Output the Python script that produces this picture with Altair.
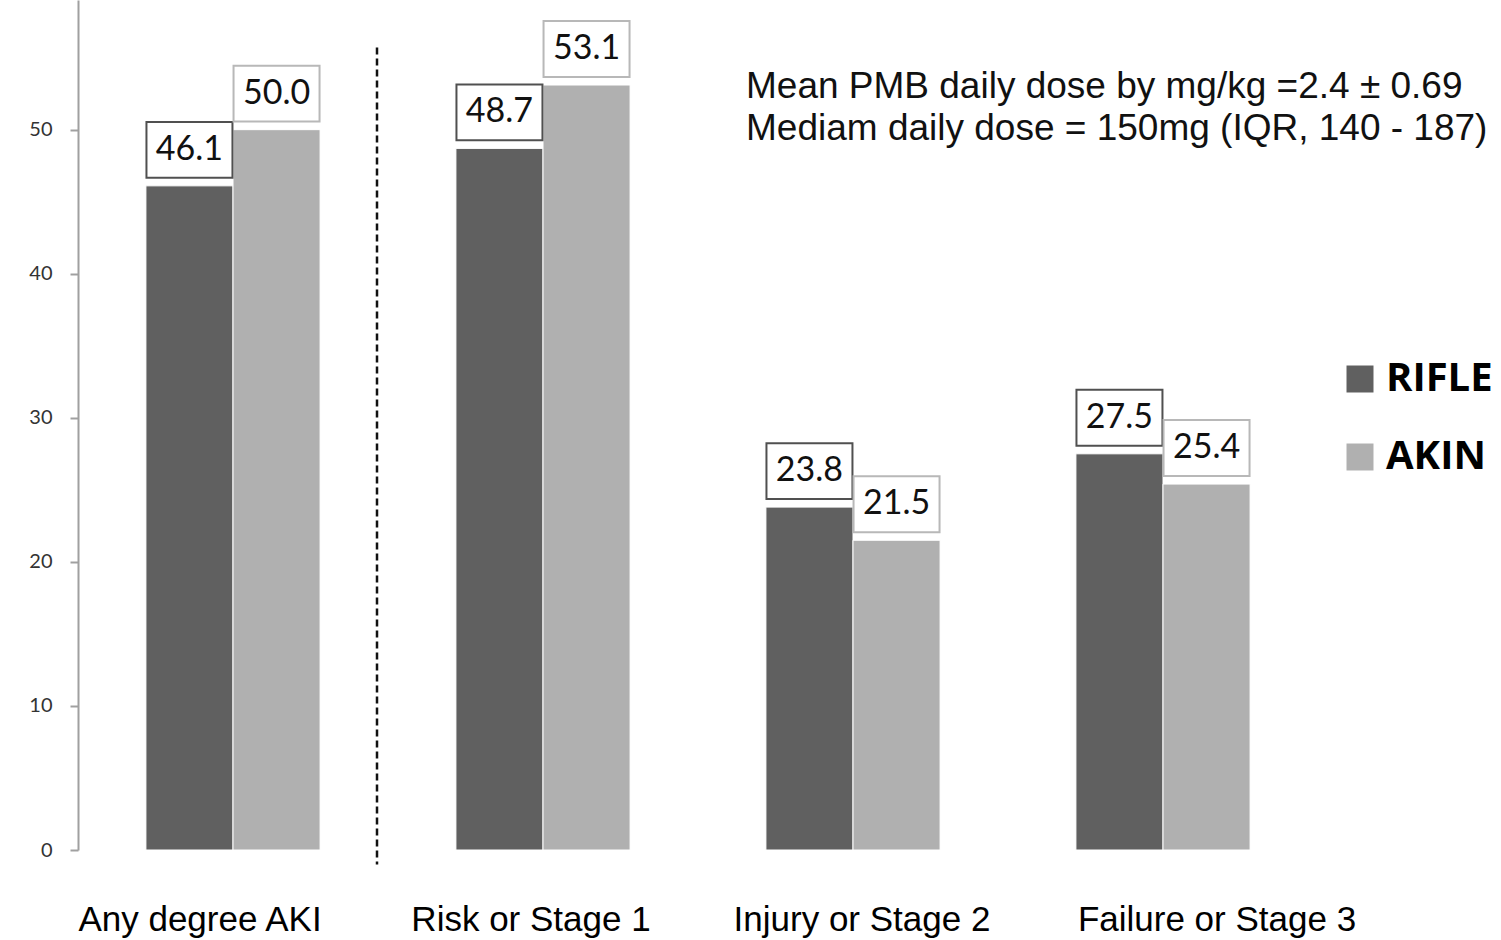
import altair as alt
import pandas as pd

# Data
categories = ["Any degree AKI", "Risk or Stage 1", "Injury or Stage 2", "Failure or Stage 3"]
series = ["RIFLE", "AKIN"]
rifle_values = [46.1, 48.7, 23.8, 27.5]
akin_values = [50.0, 53.1, 21.5, 25.4]
y_ticks = [0, 10, 20, 30, 40, 50]
note_lines = [
    "Mean PMB daily dose by mg/kg =2.4 \u00b1 0.69",
    "Mediam daily dose = 150mg (IQR, 140 - 187)",
]

rows = []
for cat, r, a in zip(categories, rifle_values, akin_values):
    rows.append({"category": cat, "series": "RIFLE", "value": r, "label": f"{r:.1f}"})
    rows.append({"category": cat, "series": "AKIN", "value": a, "label": f"{a:.1f}"})
df = pd.DataFrame(rows)

# separator between the overall column and the staged columns
sep_df = pd.DataFrame({"category": ["Risk or Stage 1"], "top": [55.7], "bottom": [-1.0]})
note_df = pd.DataFrame({"note": ["\n".join(note_lines)]})

DARK = "#606060"
LIGHT = "#b0b0b0"

# per-label nudges for the category captions
caption_shift = {
    "condition": [
        {"test": "datum.value === 'Any degree AKI'", "value": -33},
        {"test": "datum.value === 'Risk or Stage 1'", "value": -12},
        {"test": "datum.value === 'Injury or Stage 2'", "value": 9},
        {"test": "datum.value === 'Failure or Stage 3'", "value": 54},
    ],
    "value": 0,
}

x_scale = alt.Scale(range=[0, 1240], paddingInner=0, paddingOuter=0)
x_axis = alt.Axis(
    title=None, domain=False, ticks=False, tickSize=0, labelAngle=0,
    labelFont="Liberation Sans Narrow, Liberation Sans", labelFontSize=35,
    labelColor="#000000", labelPadding=80, labelBaseline="alphabetic",
    labelLimit=0, labelOffset=caption_shift,
)
y_scale = alt.Scale(domain=[0, 59], nice=False, zero=True)
y_axis = alt.Axis(
    title=None, values=y_ticks, grid=False,
    domainColor="#a0a0a0", domainWidth=2,
    tickColor="#a0a0a0", tickWidth=2, tickSize=8,
    labelPadding=18, labelFont="Lato", labelFontSize=20, labelColor="#333333",
)

x_enc = alt.X("category:N", sort=categories, scale=x_scale, axis=x_axis)
xoff_enc = alt.XOffset("series:N", sort=series,
                       scale=alt.Scale(paddingInner=0, paddingOuter=0.78))

base = alt.Chart(df)

bars = base.mark_bar(stroke="white", strokeWidth=1).encode(
    x=x_enc,
    xOffset=xoff_enc,
    y=alt.Y("value:Q", scale=y_scale, axis=y_axis),
    color=alt.Color(
        "series:N",
        scale=alt.Scale(domain=series, range=[DARK, LIGHT]),
        legend=alt.Legend(
            orient="none", legendX=1262, legendY=359, title=None,
            symbolType="square", symbolSize=729, symbolStrokeWidth=0,
            labelFont="Open Sans", labelFontSize=40, labelFontWeight="bold",
            labelColor="#000000", labelOffset=6, rowPadding=38,
            padding=0, labelLimit=0,
        ),
    ),
)

# framed boxes holding the value labels
boxes = base.mark_point(
    shape="M-1,-0.65L1,-0.65L1,0.65L-1,0.65Z",
    size=7396, filled=True, fill="white", opacity=1,
    strokeWidth=2, yOffset=-36,
).encode(
    x=x_enc,
    xOffset=xoff_enc,
    y=alt.Y("value:Q", scale=y_scale, axis=y_axis),
    stroke=alt.Stroke("series:N",
                      scale=alt.Scale(domain=series, range=["#505050", "#b8b8b8"]),
                      legend=None),
)

values = base.mark_text(
    font="Lato", fontSize=34, color="#111111", baseline="middle", dy=-36,
).encode(
    x=x_enc,
    xOffset=xoff_enc,
    y=alt.Y("value:Q", scale=y_scale, axis=y_axis),
    text="label:N",
)

separator = alt.Chart(sep_df).mark_rule(
    color="#111111", strokeWidth=2.5, strokeDash=[7, 4], xOffset=-11,
).encode(
    x=alt.X("category:N", sort=categories, scale=x_scale, axis=x_axis, bandPosition=0),
    y=alt.Y("top:Q", scale=y_scale, axis=y_axis),
    y2="bottom:Q",
)

note = alt.Chart(note_df).mark_text(
    align="left", baseline="alphabetic", lineBreak="\n", lineHeight=42,
    font="Liberation Sans", fontSize=37, color="#111111",
).encode(
    x=alt.value(668),
    y=alt.value(98),
    text="note:N",
)

chart = alt.layer(bars, boxes, values, separator, note).properties(
    width=1423,
    height=850,
    autosize=alt.AutoSizeParams(type="none"),
    padding={"left": 78, "top": 0, "right": 0, "bottom": 90},
    background="white",
).configure_view(stroke=None)

chart.save("out.html", embed_options={"renderer": "svg", "actions": False})
